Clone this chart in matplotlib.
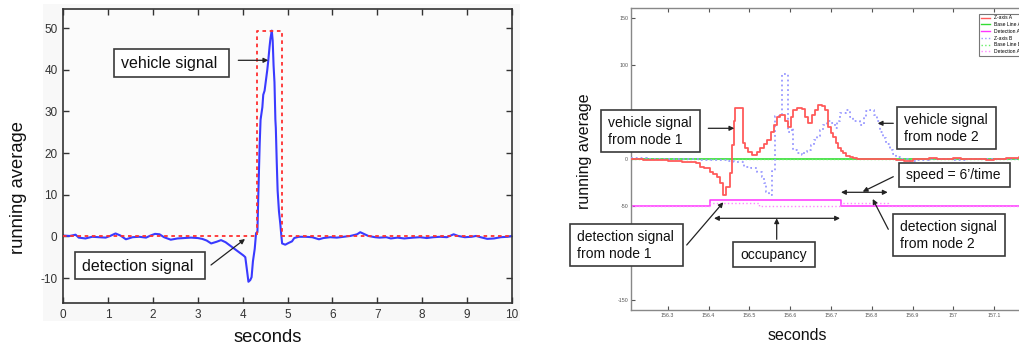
import matplotlib
matplotlib.use("Agg")
import matplotlib.pyplot as plt
from matplotlib.patches import Rectangle, FancyArrowPatch
from matplotlib.lines import Line2D

plt.rcParams['font.family'] = ['Liberation Sans', 'DejaVu Sans']
plt.rcParams['axes.unicode_minus'] = False

W, H = 1019, 347

# ---------------- left panel: single node ----------------
left_t = [0.0, 0.15, 0.28, 0.35, 0.5, 0.65, 0.8, 0.95, 1.05, 1.17, 1.28, 1.4, 1.55,
          1.7, 1.85, 1.95, 2.05, 2.15, 2.25, 2.4, 2.55, 2.7, 2.85, 3.0, 3.1, 3.2,
          3.3, 3.42, 3.52, 3.62, 3.72, 3.82, 3.92, 4.02, 4.06, 4.09, 4.13, 4.17,
          4.2, 4.23, 4.27, 4.30, 4.33, 4.35, 4.38, 4.40, 4.44, 4.46, 4.49, 4.52,
          4.55, 4.57, 4.60, 4.62, 4.65, 4.67, 4.69, 4.71, 4.73, 4.74, 4.76, 4.78,
          4.81, 4.84, 4.86, 4.88, 4.95, 5.02, 5.1, 5.15, 5.25, 5.4, 5.55, 5.7,
          5.8, 5.95, 6.1, 6.25, 6.4, 6.55, 6.62, 6.7, 6.8, 6.95, 7.05, 7.2, 7.3,
          7.45, 7.6, 7.8, 7.95, 8.1, 8.25, 8.4, 8.55, 8.7, 8.8, 8.95, 9.1, 9.2,
          9.3, 9.45, 9.6, 9.75, 9.9, 10.0]
left_v = [0.2, 0.1, 0.4, -0.3, -0.5, -0.1, -0.2, -0.3, 0.1, 0.7, 0.2, -0.7, -0.2,
          -0.1, -0.3, 0.2, 0.6, 0.5, -0.2, -0.8, -0.5, -0.4, -0.3, -0.4, -0.6, -1.0,
          -1.7, -1.3, -0.9, -1.4, -2.2, -3.0, -3.8, -4.6, -5.0, -7.5, -10.9, -10.5,
          -9.8, -6.0, -3.0, 0.8, 1.0, 10.0, 22.0, 28.0, 31.0, 34.0, 35.0, 37.5,
          40.0, 42.0, 45.5, 47.5, 49.4, 47.0, 41.0, 37.0, 28.0, 26.0, 18.0, 11.0,
          6.0, 3.0, 0.5, -1.7, -2.0, -1.6, -1.2, -0.4, -0.1, -0.1, -0.2, -0.7,
          -0.4, -0.2, -0.3, -0.1, 0.1, 0.5, 1.0, 0.6, 0.1, -0.2, -0.3, -0.2, -0.5,
          -0.3, -0.5, -0.3, -0.2, -0.4, -0.2, -0.1, -0.2, 0.5, 0.1, -0.2, -0.1, 0.1,
          -0.2, -0.6, -0.5, -0.2, -0.1, 0.1]
left_det_t = [0.0, 4.32, 4.88, 10.0]
left_det_v = [0.0, 49.4, 0.0, 0.0]
left_xticks = list(range(0, 11))
left_yticks = [-10, 0, 10, 20, 30, 40, 50]

# ---------------- right panel: two nodes ----------------
za_t = [156.21, 156.24, 156.27, 156.30, 156.32, 156.335, 156.35, 156.36, 156.37,
        156.38, 156.39, 156.404, 156.412, 156.42, 156.428, 156.435, 156.444,
        156.452, 156.458, 156.462, 156.465, 156.484, 156.49, 156.497, 156.506,
        156.518, 156.527, 156.535, 156.543, 156.552, 156.56, 156.567, 156.575,
        156.588, 156.596, 156.602, 156.608, 156.616, 156.628, 156.636, 156.645,
        156.653, 156.661, 156.669, 156.677, 156.685, 156.694, 156.700, 156.706,
        156.712, 156.718, 156.724, 156.73, 156.738, 156.747, 156.755, 156.763,
        156.78, 156.80, 156.83, 156.86, 156.88, 156.90, 156.92, 156.94, 156.96,
        156.98, 157.0, 157.02, 157.05, 157.08, 157.10, 157.13, 157.16, 157.18,
        157.2]
za_v = [-0.5, -1.0, -1.5, -2.5, -2.0, -3.0, -3.5, -2.8, -4.5, -8.2, -10.0, -13.5,
        -16.0, -18.9, -26.0, -38.5, -29.6, -15.3, 15.0, 40.0, 54.8, 16.7, 11.4,
        7.0, 4.3, 7.9, 11.4, 16.0, 20.0, 29.0, 36.0, 45.0, 47.0, 41.0, 34.0, 45.0,
        52.0, 54.0, 53.0, 45.0, 38.0, 47.0, 52.0, 57.7, 57.0, 52.0, 34.0, 28.0,
        23.5, 17.0, 11.4, 8.0, 6.0, 3.5, 2.2, 1.2, 0.3, 0.0, -0.5, 0.5, -1.0, -2.0,
        -0.5, 0.5, 1.5, 0.5, -0.5, 1.0, -0.5, 0.5, -1.0, -0.5, 1.0, 2.0, 0.5, 0.5]

zb_t = [156.21, 156.25, 156.30, 156.34, 156.38, 156.423, 156.45, 156.463,
        156.487, 156.503, 156.52, 156.53, 156.536, 156.54, 156.548, 156.556,
        156.563, 156.579, 156.596, 156.604, 156.608, 156.618, 156.628, 156.635,
        156.642, 156.65, 156.658, 156.666, 156.673, 156.681, 156.69, 156.70,
        156.71, 156.716, 156.722, 156.738, 156.748, 156.755, 156.771, 156.78,
        156.787, 156.796, 156.806, 156.812, 156.82, 156.828, 156.836, 156.845,
        156.853, 156.86, 156.87, 156.89, 156.91, 156.94, 156.97, 157.0, 157.03,
        157.06, 157.1, 157.14, 157.2]
zb_v = [1.0, 0.5, 0.0, -0.5, -1.0, -1.0, -2.0, -2.8, -8.2, -10.0, -13.5, -18.9,
        -26.0, -35.0, -38.5, -13.0, 46.0, 90.8, 29.0, 33.0, 10.0, 6.0, 4.0, 7.0,
        10.0, 15.0, 20.0, 25.0, 31.0, 36.0, 40.0, 38.0, 33.0, 41.0, 49.0, 52.4,
        45.0, 40.0, 36.5, 45.0, 51.0, 52.5, 47.0, 40.0, 29.0, 22.0, 16.5, 10.0,
        5.8, 2.2, 0.0, -2.0, -1.5, -0.5, 0.0, -1.0, 0.5, 0.0, -0.5, 0.5, 0.5]

det_a_t = [156.21, 156.404, 156.725, 157.2]
det_a_v = [-50, -44, -50, -50]
det_b_t = [156.21, 156.404, 156.524, 156.725, 156.839, 157.2]
det_b_v = [-50, -47, -50, -47, -50, -50]
base_t = [156.21, 157.2]
base_v = [0, 0]

right_xticks = [156.3, 156.4, 156.5, 156.6, 156.7, 156.8, 156.9, 157.0, 157.1]
right_xlabels = ['156.3', '156.4', '156.5', '156.6', '156.7', '156.8', '156.9',
                 '157', '157.1']
right_yticks = [-150, -100, -50, 0, 50, 100, 150]
legend_labels = ['Z-axis A', 'Base Line A', 'Detection A', 'Z-axis B',
                 'Base Line B', 'Detection A']


def frac(x, y):
    return x / W, 1 - y / H


def ax_rect(x0, y0, x1, y1):
    return [x0 / W, 1 - y1 / H, (x1 - x0) / W, (y1 - y0) / H]


fig = plt.figure(figsize=(W / 100, H / 100), dpi=100)
fig.patch.set_facecolor('white')

# faint backdrop behind the left plot
fig.add_artist(Rectangle(frac(43, 321), 477 / W, 317 / H, transform=fig.transFigure,
                         facecolor='#f8f8f8', edgecolor='none', zorder=-5))

# ---- left axes ----
axL = fig.add_axes(ax_rect(63, 9, 512, 303))
axL.set_facecolor('#fbfbfb')
axL.plot(left_det_t, left_det_v, drawstyle='steps-post', color='#ff3030',
         lw=1.3, ls=(0, (2, 2)), zorder=3)
axL.plot(left_t, left_v, color='#3a3aff', lw=1.5, zorder=2)
axL.set_xlim(0, 10)
axL.set_ylim(-16, 54.6)
axL.set_xticks(left_xticks)
axL.set_yticks(left_yticks)
axL.tick_params(direction='in', length=4, width=1, top=True, right=True,
                labelsize=8.5, colors='#333333', pad=4)
for s in axL.spines.values():
    s.set_color('#333333')
    s.set_linewidth(1.2)
fig.text(*frac(18.5, 187), 'running average', rotation=90, ha='center', va='center',
         fontsize=13.2, color='#111111')
fig.text(*frac(268, 338), 'seconds', ha='center', va='center', fontsize=13.2,
         color='#111111')

# ---- right axes ----
axR = fig.add_axes(ax_rect(631, 8, 1034.9, 310))
axR.set_facecolor('white')
axR.step(base_t, base_v, where='post', color='#33dd33', lw=1.2, zorder=2)
axR.step(base_t, base_v, where='post', color='#66ee66', lw=1.0, ls=':', zorder=2)
axR.step(det_a_t, det_a_v, where='post', color='#ff33ff', lw=1.1, zorder=2)
axR.step(det_b_t, det_b_v, where='post', color='#ff88ff', lw=1.0, ls=':', zorder=2)
axR.step(zb_t, zb_v, where='post', color='#9999ff', lw=1.3, ls=':', zorder=3)
axR.step(za_t, za_v, where='post', color='#ff5a5a', lw=1.3, zorder=4)
axR.set_xlim(156.21, 157.2)
axR.set_ylim(-161, 161)
axR.set_xticks(right_xticks)
axR.set_xticklabels(right_xlabels)
axR.set_yticks(right_yticks)
axR.tick_params(direction='in', length=3, width=0.8, top=True, right=True,
                labelsize=3.8, colors='#555555', pad=2)
for s in axR.spines.values():
    s.set_color('#888888')
    s.set_linewidth(1.0)
fig.text(*frac(585, 151), 'running average', rotation=90, ha='center', va='center',
         fontsize=11.5, color='#111111')
fig.text(*frac(797, 335), 'seconds', ha='center', va='center', fontsize=11.5,
         color='#111111')

handles = [Line2D([], [], color='#ff5a5a', lw=1.0),
           Line2D([], [], color='#33dd33', lw=1.0),
           Line2D([], [], color='#ff33ff', lw=1.0),
           Line2D([], [], color='#9999ff', lw=1.0, ls=':'),
           Line2D([], [], color='#66ee66', lw=1.0, ls=':'),
           Line2D([], [], color='#ff88ff', lw=1.0, ls=':')]
leg = fig.legend(handles, legend_labels, loc='upper left',
                 bbox_to_anchor=frac(976.7, 11), bbox_transform=fig.transFigure,
                 fontsize=3.6, labelspacing=0.35, handlelength=1.9,
                 handletextpad=0.7, borderpad=0.35, fancybox=False, framealpha=1,
                 edgecolor='#777777')
leg.get_frame().set_linewidth(0.8)
leg.set_zorder(6)


# ---- callout boxes and arrows ----
def callout(x0, y0, x1, y1, text, size, padx=7):
    fig.add_artist(Rectangle(frac(x0, y1), (x1 - x0) / W, (y1 - y0) / H,
                             transform=fig.transFigure, facecolor='white',
                             edgecolor='#3a3a3a', lw=1.2, zorder=10))
    t = fig.text(*frac(x0 + padx, (y0 + y1) / 2 + 0.5), text, ha='left',
                 va='center', fontsize=size, linespacing=1.25, color='#111111')
    t.set_zorder(11)


def arrow(p, q, style='-|>'):
    fig.add_artist(FancyArrowPatch(frac(*p), frac(*q), transform=fig.transFigure,
                                   arrowstyle=style, mutation_scale=7, lw=0.9,
                                   color='#222222', shrinkA=0, shrinkB=0,
                                   zorder=12))


callout(114, 49, 228.7, 77.3, 'vehicle signal', 11.5)
arrow((238.3, 60.3), (268.3, 60.3))
callout(75, 252.3, 205, 279.3, 'detection signal', 11.5)
arrow((211, 265), (245, 239))

callout(601, 110, 700.3, 151.7, 'vehicle signal\nfrom node 1', 10)
arrow((708.3, 128.3), (734.3, 128.3))
callout(897.3, 107.3, 995.7, 148.7, 'vehicle signal\nfrom node 2', 10)
arrow((893.3, 123.3), (877.7, 123.3))
callout(899.3, 162.7, 1010, 187.3, 'speed = 6\u2019/time', 10)
arrow((893.3, 176.7), (862.7, 191.7))
arrow((841, 192.3), (887.7, 192.3), '<|-|>')
callout(893.3, 214.3, 1005, 256, 'detection signal\nfrom node 2', 10)
arrow((888.3, 229.3), (872.7, 199))
callout(570, 224, 682.7, 265.7, 'detection signal\nfrom node 1', 10)
arrow((686.7, 245), (723.3, 202.3))
callout(733.3, 241.7, 815, 266.7, 'occupancy', 10)
arrow((776.7, 239.3), (776.7, 218.3))
arrow((714, 218.3), (840, 218.3), '<|-|>')

fig.savefig('out.png', dpi=100)
